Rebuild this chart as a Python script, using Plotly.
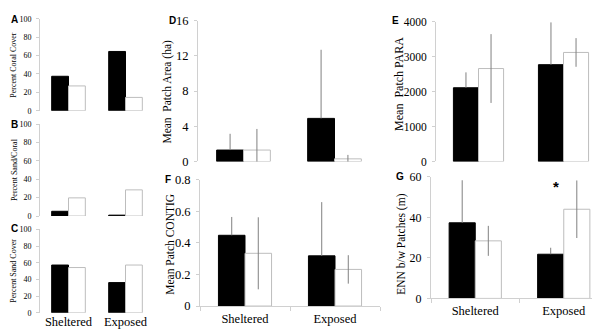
import plotly.graph_objects as go

W, H = 600, 329

categories = ["Sheltered", "Exposed"]

coral_dark = [37.5, 64.5]
coral_light = [27, 14.5]
sandcoral_dark = [5.2, 1.0]
sandcoral_light = [19.8, 28.5]
sand_dark = [57.3, 36.2]
sand_light = [54.3, 57.3]

area_dark = [1.3, 4.9]
area_dark_err = [1.85, 7.8]
area_light = [1.3, 0.3]
area_light_err = [2.4, 0.45]

para_dark = [2110, 2770]
para_dark_err = [440, 1210]
para_light = [2660, 3120]
para_light_err = [985, 410]

contig_dark = [0.448, 0.318]
contig_dark_err = [0.116, 0.34]
contig_light = [0.334, 0.232]
contig_light_err = [0.228, 0.09]

enn_dark = [37.3, 21.8]
enn_dark_err = [21, 3.2]
enn_light = [28.4, 44]
enn_light_err = [7.4, 14.2]

SERIF = "Liberation Serif, Times New Roman, serif"
SANS = "Liberation Sans, Arial, sans-serif"
AXC = "#d0d0d0"
ERRC = "#808080"
LIGHT_EDGE = "#bdbdbd"


def fx(a, b):
    return [a / W, b / W]


def fy(top, bottom):
    return [1 - bottom / H, 1 - top / H]


panels = [
    ("A", (32, 146), (4, 100), [0, 100], [0, 20, 40, 60, 80, 100], 8, False,
     coral_dark, None, coral_light, None),
    ("B", (32, 146), (114, 210), [0, 100], [0, 20, 40, 60, 80, 100], 8, False,
     sandcoral_dark, None, sandcoral_light, None),
    ("C", (32, 146), (224, 311), [0, 100], [0, 20, 40, 60, 80, 100], 8, True,
     sand_dark, None, sand_light, None),
    ("D", (190, 372), (6, 153), [0, 16], [0, 4, 8, 12, 16], 12.5, False,
     area_dark, area_dark_err, area_light, area_light_err),
    ("E", (428, 598), (7, 153), [0, 4000], [0, 1000, 2000, 3000, 4000], 11.5, False,
     para_dark, para_dark_err, para_light, para_light_err),
    ("F", (192, 372), (172, 304), [0, 0.8], [0, 0.2, 0.4, 0.6, 0.8], 12.5, True,
     contig_dark, contig_dark_err, contig_light, contig_light_err),
    ("G", (423, 600), (169, 296), [0, 60], [0, 20, 40, 60], 12, True,
     enn_dark, enn_dark_err, enn_light, enn_light_err),
]

fig = go.Figure()
layout = dict(
    width=W, height=H,
    margin=dict(l=0, r=0, t=0, b=0),
    paper_bgcolor="white", plot_bgcolor="white",
    showlegend=False,
    barmode="group", bargap=0.41, bargroupgap=0,
    font=dict(family=SERIF, color="black"),
)

for i, (key, xd, yd, yr, tv, tfs, showx, dv, de, lv, le) in enumerate(panels):
    n = i + 1
    xa = "x" if n == 1 else f"x{n}"
    ya = "y" if n == 1 else f"y{n}"
    dark_err = None
    if de is not None:
        dark_err = dict(type="data", symmetric=False, array=de,
                        arrayminus=[0] * len(de), color=ERRC, thickness=1, width=0)
    light_err = None
    if le is not None:
        light_err = dict(type="data", array=le, color=ERRC, thickness=1, width=0)
    fig.add_trace(go.Bar(x=categories, y=dv, xaxis=xa, yaxis=ya,
                         marker=dict(color="black", line=dict(color="black", width=1)),
                         error_y=dark_err))
    fig.add_trace(go.Bar(x=categories, y=lv, xaxis=xa, yaxis=ya,
                         marker=dict(color="white", line=dict(color=LIGHT_EDGE, width=1)),
                         error_y=light_err))
    xk = "xaxis" if n == 1 else f"xaxis{n}"
    yk = "yaxis" if n == 1 else f"yaxis{n}"
    layout[yk] = dict(domain=fy(*yd), anchor=xa, range=yr, tickvals=tv,
                      showgrid=False, zeroline=False,
                      showline=True, linecolor=AXC, linewidth=1,
                      ticks="outside", ticklen=3, tickcolor=AXC,
                      ticklabelstandoff=3,
                      tickfont=dict(family=SERIF, size=tfs, color="black"))
    xcfg = dict(domain=fx(*xd), anchor=ya, type="category", range=[-0.5, 1.5],
                showgrid=False, zeroline=False,
                tickfont=dict(family=SERIF, size=12.5, color="black"))
    if key in ("F", "G"):
        xcfg.update(showline=True, linecolor=AXC, linewidth=1, ticks="outside",
                    ticklen=4, tickcolor=AXC, tickson="boundaries",
                    ticklabelstandoff=1)
    else:
        xcfg.update(showline=False, ticks="")
    if not showx:
        xcfg.update(showticklabels=False)
    layout[xk] = xcfg

fig.update_layout(**layout)

ann = []
letters = [("A", 1, 5), ("B", 1, 114), ("C", 1, 223), ("D", 159, 6),
           ("E", 382, 6), ("F", 155, 172), ("G", 386, 169)]
for t, x, y in letters:
    ann.append(dict(text=f"<b>{t}</b>", x=x / W, y=1 - y / H, xref="paper", yref="paper",
                    xanchor="left", yanchor="middle", showarrow=False,
                    font=dict(family=SANS, size=10, color="black")))

titles = [
    ("Percent Coral Cover", 6, 52, 8),
    ("Percent Sand/Coral", 6, 162, 8),
    ("Percent Sand Cover", 6, 267, 8),
    ("Mean  Patch Area (ha)", 160, 80, 11.5),
    ("Mean  Patch PARA", 391, 72, 12),
    ("Mean Patch CONTIG", 162, 240, 11.5),
    ("ENN b/w Patches (m)", 394, 240, 11.5),
]
for t, x, y, s in titles:
    ann.append(dict(text=t, x=x / W, y=1 - y / H, xref="paper", yref="paper",
                    xanchor="center", yanchor="middle", textangle=-90, showarrow=False,
                    font=dict(family=SERIF, size=s, color="black")))

ann.append(dict(text="<b>*</b>", x="Exposed", y=55, xref="x7", yref="y7",
                xshift=-8, showarrow=False,
                font=dict(family=SANS, size=15, color="black")))

fig.update_layout(annotations=ann)
fig.write_html("out.html")
